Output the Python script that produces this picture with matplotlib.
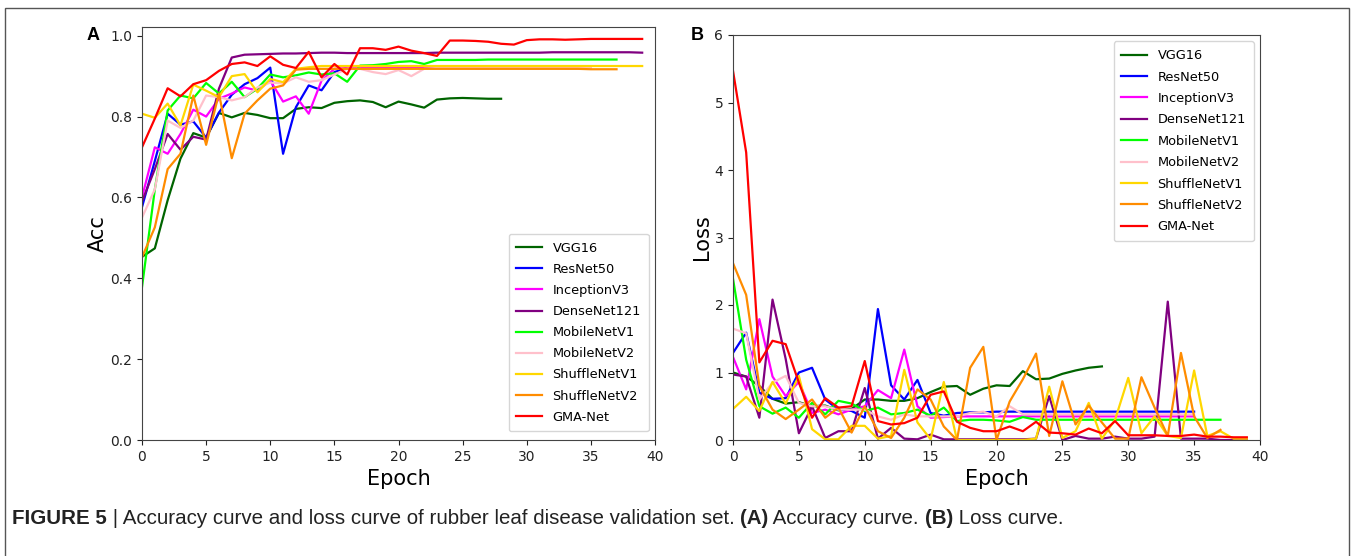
import matplotlib
matplotlib.use("Agg")
import matplotlib.pyplot as plt
from matplotlib.patches import Rectangle
from matplotlib.text import Annotation

# model names and line colours
models = ["VGG16", "ResNet50", "InceptionV3", "DenseNet121", "MobileNetV1",
          "MobileNetV2", "ShuffleNetV1", "ShuffleNetV2", "GMA-Net"]
colors = ["darkgreen", "blue", "magenta", "purple", "lime",
          "pink", "gold", "darkorange", "red"]

# validation accuracy per epoch
vgg16_acc = [0.453, 0.474, 0.593, 0.696, 0.759, 0.748, 0.809, 0.798, 0.809, 0.804,
             0.796, 0.796, 0.819, 0.823, 0.821, 0.834, 0.838, 0.840, 0.836, 0.823,
             0.837, 0.830, 0.822, 0.842, 0.845, 0.846, 0.845, 0.844, 0.844]
resnet_acc = [0.576, 0.690, 0.807, 0.780, 0.788, 0.748, 0.810, 0.854, 0.880, 0.895,
              0.921, 0.708, 0.823, 0.877, 0.865, 0.910, 0.920, 0.921, 0.920, 0.920,
              0.921, 0.920, 0.920, 0.920, 0.921, 0.921, 0.920, 0.920, 0.921, 0.921,
              0.920, 0.920, 0.921, 0.920, 0.920, 0.920]
inception_acc = [0.600, 0.724, 0.708, 0.757, 0.817, 0.800, 0.844, 0.857, 0.872, 0.864,
                 0.889, 0.837, 0.850, 0.807, 0.889, 0.918, 0.920, 0.920, 0.920, 0.920,
                 0.920, 0.920, 0.921, 0.921, 0.921, 0.920, 0.920, 0.920, 0.920, 0.920,
                 0.920, 0.920, 0.920, 0.920, 0.920, 0.920]
densenet_acc = [0.590, 0.670, 0.757, 0.718, 0.750, 0.743, 0.869, 0.946, 0.953, 0.954,
                0.955, 0.956, 0.956, 0.957, 0.958, 0.958, 0.957, 0.957, 0.957, 0.957,
                0.957, 0.957, 0.957, 0.958, 0.958, 0.958, 0.958, 0.958, 0.958, 0.958,
                0.958, 0.958, 0.959, 0.959, 0.959, 0.959, 0.959, 0.959, 0.959, 0.958]
mobilev1_acc = [0.378, 0.620, 0.815, 0.852, 0.845, 0.883, 0.857, 0.886, 0.848, 0.869,
                0.904, 0.897, 0.902, 0.909, 0.904, 0.907, 0.886, 0.926, 0.927, 0.930,
                0.935, 0.937, 0.930, 0.940, 0.940, 0.940, 0.940, 0.941, 0.941, 0.941,
                0.941, 0.941, 0.941, 0.941, 0.941, 0.941, 0.941, 0.941]
mobilev2_acc = [0.550, 0.620, 0.790, 0.772, 0.790, 0.852, 0.848, 0.840, 0.848, 0.872,
                0.884, 0.882, 0.897, 0.886, 0.890, 0.904, 0.918, 0.918, 0.910, 0.905,
                0.915, 0.900, 0.918, 0.920, 0.920, 0.920, 0.920, 0.920, 0.920, 0.920,
                0.920, 0.920, 0.920, 0.920, 0.920, 0.920]
shufflev1_acc = [0.807, 0.797, 0.832, 0.778, 0.879, 0.864, 0.848, 0.900, 0.905, 0.860,
                 0.893, 0.885, 0.918, 0.922, 0.925, 0.925, 0.925, 0.925, 0.925, 0.925,
                 0.925, 0.925, 0.925, 0.925, 0.925, 0.925, 0.925, 0.925, 0.925, 0.925,
                 0.925, 0.925, 0.925, 0.925, 0.925, 0.925, 0.925, 0.925, 0.925, 0.925]
shufflev2_acc = [0.452, 0.526, 0.670, 0.708, 0.852, 0.730, 0.857, 0.697, 0.807, 0.840,
                 0.869, 0.877, 0.916, 0.918, 0.918, 0.918, 0.918, 0.918, 0.918, 0.918,
                 0.918, 0.918, 0.918, 0.918, 0.918, 0.918, 0.918, 0.918, 0.918, 0.918,
                 0.918, 0.918, 0.918, 0.918, 0.918, 0.917, 0.917, 0.917]
gma_acc = [0.724, 0.795, 0.870, 0.850, 0.880, 0.890, 0.913, 0.930, 0.934, 0.925,
           0.949, 0.928, 0.920, 0.960, 0.897, 0.930, 0.904, 0.969, 0.969, 0.965,
           0.973, 0.963, 0.957, 0.950, 0.988, 0.988, 0.987, 0.985, 0.980, 0.978,
           0.989, 0.991, 0.991, 0.990, 0.991, 0.992, 0.992, 0.992, 0.992, 0.992]

# validation loss per epoch
vgg16_loss = [1.00, 0.94, 0.80, 0.61, 0.54, 0.56, 0.50, 0.51, 0.44, 0.46,
              0.60, 0.60, 0.58, 0.58, 0.62, 0.71, 0.79, 0.80, 0.67, 0.76,
              0.81, 0.80, 1.02, 0.90, 0.91, 0.98, 1.03, 1.07, 1.09]
resnet_loss = [1.29, 1.59, 0.70, 0.61, 0.62, 1.00, 1.07, 0.60, 0.45, 0.43,
               0.33, 1.94, 0.81, 0.60, 0.89, 0.40, 0.36, 0.40, 0.41, 0.41,
               0.42, 0.42, 0.42, 0.42, 0.42, 0.42, 0.42, 0.42, 0.42, 0.42,
               0.42, 0.42, 0.42, 0.42, 0.42, 0.42]
inception_loss = [1.23, 0.75, 1.79, 0.94, 0.65, 0.86, 0.40, 0.45, 0.38, 0.45,
                  0.50, 0.74, 0.62, 1.34, 0.50, 0.33, 0.34, 0.35, 0.35, 0.35,
                  0.35, 0.35, 0.35, 0.35, 0.35, 0.35, 0.35, 0.35, 0.35, 0.35,
                  0.35, 0.35, 0.35, 0.35, 0.35, 0.35]
densenet_loss = [0.97, 0.94, 0.33, 2.08, 1.20, 0.10, 0.50, 0.03, 0.13, 0.13,
                 0.77, 0.02, 0.18, 0.02, 0.01, 0.08, 0.01, 0.01, 0.01, 0.01,
                 0.01, 0.01, 0.01, 0.02, 0.65, 0.00, 0.06, 0.02, 0.02, 0.05,
                 0.02, 0.02, 0.05, 2.05, 0.02, 0.02, 0.02, 0.00, 0.00, 0.00]
mobilev1_loss = [2.39, 1.19, 0.50, 0.39, 0.48, 0.33, 0.55, 0.38, 0.58, 0.54,
                 0.43, 0.48, 0.38, 0.40, 0.45, 0.36, 0.48, 0.28, 0.30, 0.30,
                 0.29, 0.27, 0.34, 0.30, 0.30, 0.30, 0.30, 0.30, 0.30, 0.30,
                 0.30, 0.30, 0.30, 0.30, 0.30, 0.30, 0.30, 0.30]
mobilev2_loss = [1.65, 1.58, 0.60, 0.85, 0.95, 0.55, 0.50, 0.50, 0.45, 0.45,
                 0.45, 0.35, 0.30, 0.38, 0.35, 0.35, 0.35, 0.35, 0.40, 0.42,
                 0.35, 0.50, 0.38, 0.38, 0.38, 0.38, 0.38, 0.38, 0.38, 0.38,
                 0.38, 0.38, 0.38, 0.38, 0.38, 0.38]
shufflev1_loss = [0.46, 0.64, 0.43, 0.86, 0.54, 0.95, 0.16, 0.01, 0.01, 0.21,
                  0.21, 0.02, 0.06, 1.04, 0.26, 0.01, 0.86, 0.00, 0.00, 0.00,
                  0.00, 0.00, 0.00, 0.02, 0.79, 0.03, 0.13, 0.55, 0.02, 0.30,
                  0.92, 0.10, 0.35, 0.06, 0.03, 1.03, 0.06, 0.13, 0.02, 0.02]
shufflev2_loss = [2.62, 2.15, 0.80, 0.45, 0.31, 0.45, 0.60, 0.33, 0.48, 0.11,
                  0.50, 0.13, 0.03, 0.33, 0.75, 0.60, 0.20, 0.00, 1.07, 1.38,
                  0.00, 0.57, 0.90, 1.28, 0.06, 0.87, 0.23, 0.51, 0.26, 0.02,
                  0.02, 0.93, 0.48, 0.06, 1.29, 0.35, 0.03, 0.15]
gma_loss = [5.47, 4.26, 1.15, 1.47, 1.42, 0.85, 0.33, 0.62, 0.48, 0.50,
            1.17, 0.28, 0.23, 0.25, 0.33, 0.67, 0.72, 0.27, 0.18, 0.13,
            0.13, 0.20, 0.13, 0.27, 0.11, 0.10, 0.08, 0.17, 0.10, 0.28,
            0.07, 0.07, 0.07, 0.06, 0.06, 0.08, 0.05, 0.05, 0.04, 0.04]

acc_series = [vgg16_acc, resnet_acc, inception_acc, densenet_acc, mobilev1_acc,
              mobilev2_acc, shufflev1_acc, shufflev2_acc, gma_acc]
loss_series = [vgg16_loss, resnet_loss, inception_loss, densenet_loss, mobilev1_loss,
               mobilev2_loss, shufflev1_loss, shufflev2_loss, gma_loss]

W, H = 1357, 556
fig = plt.figure(figsize=(W / 100, H / 100), dpi=100)

# outer frame of the figure panel (open at the bottom)
fig.patches.append(Rectangle((5 / W, -0.1), 1344 / W, 1.1 - 8 / H, transform=fig.transFigure,
                             fill=False, edgecolor="#555555", linewidth=1.0))

ax1 = fig.add_axes([142 / W, (H - 440) / H, 513 / W, 413 / H])
ax2 = fig.add_axes([733 / W, (H - 440) / H, 527 / W, 405 / H])

for name, col, acc in zip(models, colors, acc_series):
    ax1.plot(range(len(acc)), acc, color=col, linewidth=1.6, label=name)
for name, col, loss in zip(models, colors, loss_series):
    ax2.plot(range(len(loss)), loss, color=col, linewidth=1.6, label=name)

ax1.set_xlim(0, 40)
ax1.set_ylim(0, 1.0215)
ax1.set_yticks([0.0, 0.2, 0.4, 0.6, 0.8, 1.0])
ax2.set_xlim(0, 40)
ax2.set_ylim(0, 6)

for ax in (ax1, ax2):
    ax.set_xticks([0, 5, 10, 15, 20, 25, 30, 35, 40])
    ax.tick_params(labelsize=10, colors="#222222")
    ax.set_xlabel("Epoch", fontsize=15, labelpad=4)
    for s in ax.spines.values():
        s.set_color("#444444")

ax1.set_ylabel("Acc", fontsize=15, labelpad=2)
ax2.set_ylabel("Loss", fontsize=15, labelpad=2)

ax1.legend(loc="lower right", fontsize=9.3, labelspacing=0.63, borderpad=0.6,
           bbox_to_anchor=(1.0, 0.005))
ax2.legend(loc="upper right", fontsize=9.3, labelspacing=0.65, borderpad=0.6,
           bbox_to_anchor=(1.0, 1.0))

fig.text(93 / W, 1 - 36 / H, "A", fontsize=13, fontweight="bold",
         family="Liberation Sans", ha="center", va="center")
fig.text(697 / W, 1 - 35 / H, "B", fontsize=13, fontweight="bold",
         family="Liberation Sans", ha="center", va="center")

# caption, pieces chained one after another
cap_font = dict(fontsize=14.8, family=["Liberation Sans Narrow", "Liberation Sans"])
pieces = [("FIGURE 5", "bold"),
          (" | Accuracy curve and loss curve of rubber leaf disease validation set. ", "normal"),
          ("(A)", "bold"), (" Accuracy curve. ", "normal"),
          ("(B)", "bold"), (" Loss curve.", "normal")]
prev = fig.text(12 / W, 1 - 518 / H, pieces[0][0], fontweight=pieces[0][1],
                va="center", ha="left", color="#222222", **cap_font)
for txt, wt in pieces[1:]:
    prev = fig.add_artist(Annotation(txt, xy=(1, 0), xycoords=prev, va="bottom", ha="left",
                                     fontweight=wt, color="#222222", **cap_font))

fig.savefig("out.png", dpi=100)
